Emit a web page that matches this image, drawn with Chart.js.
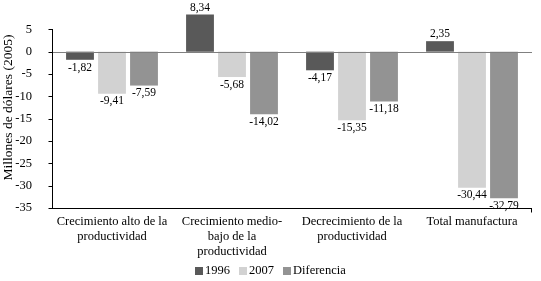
<html>
<head>
<script src="https://cdn.jsdelivr.net/npm/chart.js@4.4.0/dist/chart.umd.min.js"></script>
<style>
body { margin:0; background:#fff; }
#wrap { width:541px; height:281px; }
</style>
</head>
<body>
<div id="wrap"><canvas id="myChart" width="541" height="281"></canvas></div>
<script>
var categories = [
  ["Crecimiento alto de la", "productividad"],
  ["Crecimiento medio-", "bajo de la", "productividad"],
  ["Decrecimiento de la", "productividad"],
  ["Total manufactura"]
];
var v1996 = [-1.82, 8.34, -4.17, 2.35];
var v2007 = [-9.41, -5.68, -15.35, -30.44];
var vDif  = [-7.59, -14.02, -11.18, -32.79];

var serif = "'Liberation Serif', 'Times New Roman', serif";

// value labels under/over the bars, comma decimal
var barLabels = {
  id: 'barLabels',
  afterDatasetsDraw(chart) {
    var ctx = chart.ctx;
    ctx.save();
    ctx.font = "11.5px " + serif;
    ctx.fillStyle = '#000';
    ctx.textAlign = 'center';
    chart.data.datasets.forEach((ds, i) => {
      chart.getDatasetMeta(i).data.forEach((bar, j) => {
        var v = ds.data[j];
        var txt = v.toFixed(2).replace('.', ',');
        if (v >= 0) {
          ctx.textBaseline = 'bottom';
          ctx.fillText(txt, bar.x, bar.y - 1);
        } else {
          ctx.textBaseline = 'top';
          ctx.fillText(txt, bar.x, bar.y + 2);
        }
      });
    });
    ctx.restore();
  }
};

// axis lines: y axis from 5 down, zero line, bottom line
var axisLines = {
  id: 'axisLines',
  afterDraw(chart) {
    var ctx = chart.ctx, y = chart.scales.y, a = chart.chartArea;
    ctx.save();
    ctx.strokeStyle = '#808080';
    ctx.lineWidth = 1;
    var y0 = Math.round(y.getPixelForValue(0)) + 0.5;
    ctx.beginPath(); ctx.moveTo(a.left, y0); ctx.lineTo(a.right, y0); ctx.stroke();
    ctx.strokeStyle = '#000';
    var yb = Math.round(y.getPixelForValue(-35)) + 0.5;
    var yt = Math.round(y.getPixelForValue(5));
    var xl = Math.round(a.left) + 0.5;
    ctx.beginPath(); ctx.moveTo(xl, yt); ctx.lineTo(xl, yb); ctx.stroke();
    ctx.beginPath(); ctx.moveTo(a.left, yb); ctx.lineTo(a.right, yb); ctx.stroke();
    for (var t = 5; t >= -35; t -= 5) {
      var p = Math.round(y.getPixelForValue(t)) + 0.5;
      ctx.beginPath(); ctx.moveTo(xl - 4, p); ctx.lineTo(xl, p); ctx.stroke();
    }
    var xr = Math.round(a.right) - 0.5;
    ctx.beginPath(); ctx.moveTo(xr, yb); ctx.lineTo(xr, yb + 4); ctx.stroke();
    ctx.restore();
  }
};

// legend at the bottom, tight box/text spacing like the original
var bottomLegend = {
  id: 'bottomLegend',
  afterDraw(chart) {
    var ctx = chart.ctx;
    ctx.save();
    ctx.font = "12.5px " + serif;
    ctx.textBaseline = 'middle';
    ctx.textAlign = 'left';
    var box = 8, gap = 2, itemGap = 9, cy = 271;
    var items = chart.data.datasets.map(ds => ({t: ds.label, c: ds.backgroundColor, w: ctx.measureText(ds.label).width}));
    var total = items.reduce((s, it) => s + box + gap + it.w, 0) + itemGap * (items.length - 1);
    var x = Math.round(chart.width / 2 - total / 2);
    items.forEach(it => {
      ctx.fillStyle = it.c;
      ctx.fillRect(x, cy - 4, box, box);
      ctx.fillStyle = '#000';
      ctx.fillText(it.t, x + box + gap, cy);
      x += box + gap + it.w + itemGap;
    });
    ctx.restore();
  }
};

new Chart(document.getElementById('myChart').getContext('2d'), {
  type: 'bar',
  data: {
    labels: categories,
    datasets: [
      {label: '1996', data: v1996, backgroundColor: '#595959'},
      {label: '2007', data: v2007, backgroundColor: '#d2d2d2'},
      {label: 'Diferencia', data: vDif, backgroundColor: '#939393'}
    ]
  },
  options: {
    responsive: false,
    animation: false,
    layout: {padding: {top: 7, right: 9, left: 0, bottom: 20}},
    datasets: {bar: {categoryPercentage: 0.8, barPercentage: 0.87}},
    plugins: {
      legend: {display: false},
      tooltip: {enabled: false}
    },
    scales: {
      x: {
        grid: {display: false, drawTicks: false},
        border: {display: false},
        afterFit(s) { s.height = 53; },
        ticks: {color: '#000', font: {family: serif, size: 12.5, lineHeight: 1.2}, maxRotation: 0, autoSkip: false, padding: 6}
      },
      y: {
        min: -35, max: 10,
        grid: {display: false},
        border: {display: false},
        afterFit(s) { s.width = 52; s.paddingTop = 0; s.paddingBottom = 0; },
        ticks: {stepSize: 5, color: '#000', font: {family: serif, size: 12.5}, padding: 12,
                callback: v => v === 10 ? '' : v},
        title: {display: true, text: 'Millones de dólares (2005)', color: '#000',
                font: {family: serif, size: 13.5}, padding: 0}
      }
    }
  },
  plugins: [barLabels, axisLines, bottomLegend]
});
</script>
</body>
</html>
